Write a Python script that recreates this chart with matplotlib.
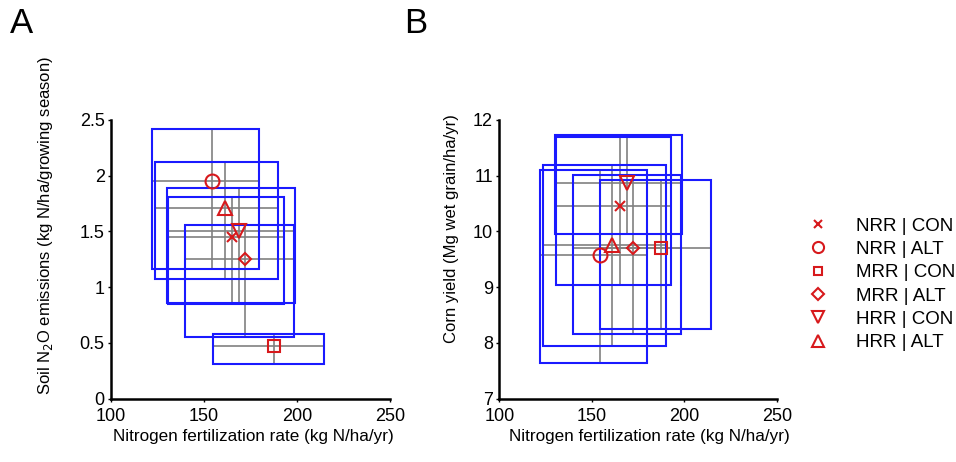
import matplotlib
matplotlib.use("Agg")
import matplotlib.pyplot as plt
from matplotlib.patches import Rectangle
from matplotlib.lines import Line2D

plt.rcParams["font.family"] = ["Liberation Sans", "DejaVu Sans"]

# treatments, shared nitrogen rate (median and range)
labels = ["NRR | CON", "NRR | ALT", "MRR | CON", "MRR | ALT", "HRR | CON", "HRR | ALT"]
markers = ["x", "o", "s", "D", "v", "^"]
n_rate = [165.3, 154.3, 187.5, 172.1, 169.0, 161.1]
n_lo = [130.5, 121.8, 154.7, 139.8, 130.3, 123.5]
n_hi = [193.0, 179.8, 214.4, 198.5, 198.7, 189.9]

# panel A: soil N2O emissions
n2o = [1.45, 1.95, 0.47, 1.25, 1.50, 1.71]
n2o_lo = [0.85, 1.16, 0.31, 0.55, 0.86, 1.07]
n2o_hi = [1.81, 2.42, 0.58, 1.56, 1.89, 2.12]

# panel B: corn yield
yld = [10.45, 9.57, 9.71, 9.70, 10.87, 9.75]
yld_lo = [9.03, 7.64, 8.25, 8.15, 9.96, 7.94]
yld_hi = [11.69, 11.11, 10.92, 11.01, 11.73, 11.19]

RED = "#d7191c"
BLUE = "#1a1aff"
GRAY = "#808080"

msize = {"x": 7, "o": 10, "s": 8, "D": 8, "v": 10, "^": 10}


def draw_panel(ax, y, ylo, yhi):
    for i in range(len(labels)):
        ax.add_patch(Rectangle((n_lo[i], ylo[i]), n_hi[i] - n_lo[i],
                               yhi[i] - ylo[i], fill=False, ec=BLUE,
                               lw=1.5, zorder=2))
    for i in range(len(labels)):
        ax.plot([n_lo[i], n_hi[i]], [y[i], y[i]], color=GRAY, lw=1.2, zorder=1)
        ax.plot([n_rate[i], n_rate[i]], [ylo[i], yhi[i]], color=GRAY, lw=1.2,
                zorder=1)
    for i in range(len(labels)):
        ms = msize[markers[i]] * (0.8 if markers[i] == "D" else 1)
        ax.plot(n_rate[i], y[i], marker=markers[i], ms=ms, mfc="none",
                mec=RED, mew=1.5, ls="none", zorder=3)
    for s in ("top", "right"):
        ax.spines[s].set_visible(False)
    for s in ("left", "bottom"):
        ax.spines[s].set_linewidth(1.8)
    ax.tick_params(axis="both", labelsize=13, width=1, length=2.5,
                   direction="out")
    ax.tick_params(axis="x", pad=4)
    ax.tick_params(axis="y", pad=2)
    ax.set_xlim(100, 250)
    ax.set_xticks([100, 150, 200, 250])
    ax.set_xlabel("Nitrogen fertilization rate (kg N/ha/yr)", fontsize=12.3)


fig = plt.figure(figsize=(9.56, 4.62), dpi=100)
W, H = 956, 462
axA = fig.add_axes([111 / W, 1 - 398.5 / H, 279 / W, 278.5 / H])
axB = fig.add_axes([499.3 / W, 1 - 398.5 / H, 277.4 / W, 278.5 / H])

draw_panel(axA, n2o, n2o_lo, n2o_hi)
axA.set_ylim(0, 2.5)
axA.set_yticks([0, 0.5, 1, 1.5, 2, 2.5])
axA.set_yticklabels(["0", "0.5", "1", "1.5", "2", "2.5"])
axA.set_ylabel("Soil N$_2$O emissions (kg N/ha/growing season)", fontsize=12)
axA.yaxis.set_label_coords(-0.2, 0.62)
axA.xaxis.set_label_coords(0.51, -0.11)

draw_panel(axB, yld, yld_lo, yld_hi)
axB.set_ylim(7, 12)
axB.set_yticks([7, 8, 9, 10, 11, 12])
axB.set_ylabel("Corn yield (Mg wet grain/ha/yr)", fontsize=12)
axB.yaxis.set_label_coords(-0.145, 0.61)
axB.xaxis.set_label_coords(0.54, -0.11)

fig.text(10 / W, 1 - 33 / H, "A", fontsize=25)
fig.text(404 / W, 1 - 33 / H, "B", fontsize=25)

handles = [Line2D([], [], marker=m,
                  ms=msize[m] * (0.75 if m in ("D",) else 0.8), mfc="none",
                  mec=RED, mew=1.5, ls="none") for m in markers]
fig.legend(handles, labels, loc="upper left",
           bbox_to_anchor=(799 / W, 1 - 210 / H), frameon=False,
           fontsize=13.5, handletextpad=1.45, labelspacing=0.33,
           handlelength=1.2, borderaxespad=0)

fig.savefig("out.png", dpi=100)
